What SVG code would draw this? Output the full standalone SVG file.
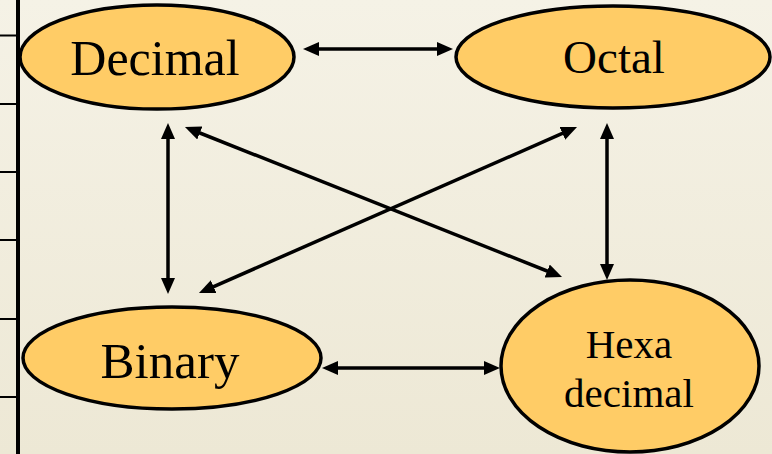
<svg xmlns="http://www.w3.org/2000/svg" width="772" height="454" viewBox="0 0 772 454">
<defs>
<linearGradient id="bg" x1="0" y1="0" x2="0" y2="1">
<stop offset="0" stop-color="#F5F2E6"/>
<stop offset="1" stop-color="#EDE8D5"/>
</linearGradient>
<marker id="ah" viewBox="0 0 16 14" refX="8" refY="7" markerWidth="16" markerHeight="14" markerUnits="userSpaceOnUse" orient="auto-start-reverse">
<path d="M0,0 L16,7 L0,14 z" fill="#000"/>
</marker>
</defs>
<style>
.node ellipse{fill:#FFCC66;stroke:#000;stroke-width:3.5}
.node text{font-family:"Liberation Serif","Times New Roman",serif;fill:#000;text-anchor:middle}
.conn line{stroke:#000;stroke-width:3.5;marker-start:url(#ah);marker-end:url(#ah)}
.frame line{stroke:#000}
</style>
<rect width="772" height="454" fill="url(#bg)"/>
<g class="frame">
<line x1="18" y1="0" x2="18" y2="454" stroke-width="4"/>
<line x1="0" y1="35.5" x2="18" y2="35.5" stroke-width="2"/>
<line x1="0" y1="104" x2="18" y2="104" stroke-width="2"/>
<line x1="0" y1="172" x2="18" y2="172" stroke-width="2"/>
<line x1="0" y1="240" x2="18" y2="240" stroke-width="2"/>
<line x1="0" y1="319" x2="18" y2="319" stroke-width="2"/>
<line x1="0" y1="397" x2="18" y2="397" stroke-width="2"/>
</g>
<g id="decimal" class="node">
<ellipse cx="157" cy="57" rx="137" ry="52"/>
<text x="155" y="75" font-size="50">Decimal</text>
</g>
<g id="octal" class="node">
<ellipse cx="613" cy="57" rx="157" ry="51"/>
<text x="614" y="73" font-size="47">Octal</text>
</g>
<g id="binary" class="node">
<ellipse cx="172" cy="358" rx="149" ry="51"/>
<text x="170" y="378" font-size="51">Binary</text>
</g>
<g id="hexadecimal" class="node">
<ellipse cx="630" cy="366" rx="129" ry="86"/>
<text x="629" y="358" font-size="41">Hexa</text>
<text x="629" y="407" font-size="41">decimal</text>
</g>
<g id="connectors" class="conn">
<line x1="311" y1="49" x2="445" y2="49"/>
<line x1="330" y1="368" x2="492" y2="368"/>
<line x1="168" y1="131" x2="168" y2="286"/>
<line x1="607" y1="131" x2="607" y2="272"/>
<line x1="192.4" y1="130" x2="554.6" y2="274"/>
<line x1="569.7" y1="130.2" x2="206.3" y2="289.8"/>
</g>
</svg>
